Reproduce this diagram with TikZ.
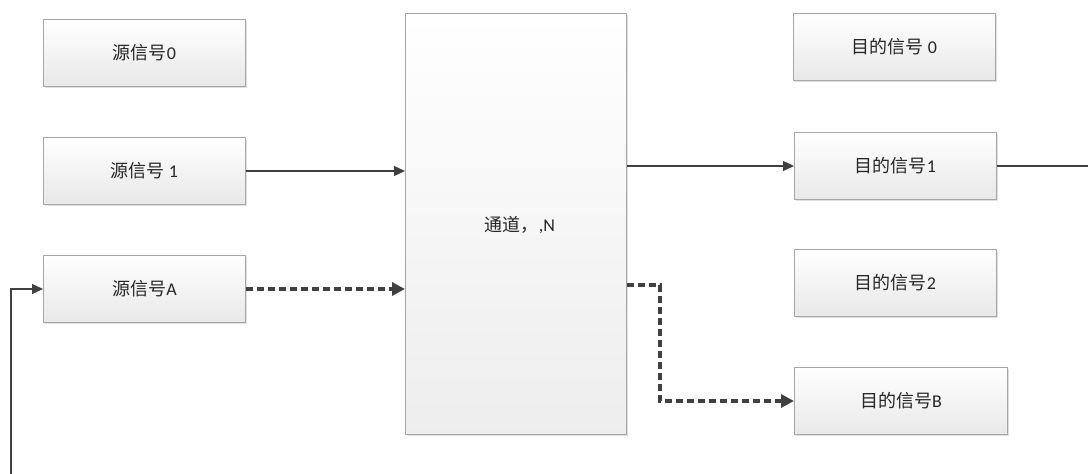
\documentclass[tikz,border=0pt]{standalone}
\usepackage{fontspec}
\setmainfont{Carlito}
\newfontfamily\cjk{Noto Sans CJK SC}
\usetikzlibrary{arrows.meta}
\definecolor{boxline}{HTML}{A6A6A6}
\definecolor{boxbot}{HTML}{E8E8E8}
\definecolor{linec}{HTML}{404040}
\definecolor{txt}{HTML}{262626}
\begin{document}
\begin{tikzpicture}[x=1pt,y=-1pt,
  box/.style={draw=boxline, line width=1pt, top color=white, bottom color=boxbot,
    anchor=north west, minimum width=202pt, minimum height=67pt, inner sep=0pt,
    text=txt, font=\fontsize{18pt}{21pt}\selectfont},
  arr/.style={draw=linec, line width=1.3pt, -{Triangle[length=11pt,width=10pt]}},
  darr/.style={draw=linec, line width=3.2pt, dash pattern=on 7pt off 4pt,
    -{Triangle[length=13pt,width=13pt]}},
  plain/.style={draw=linec, line width=1.3pt},
  shadowed/.style={preaction={fill=black!12, transform canvas={xshift=1.5pt,yshift=-1.5pt}}}
]
\useasboundingbox (0,0) rectangle (1088,474);
\fill[white] (0,0) rectangle (1088,474);

\node[box, shadowed] (s0) at (43,19) {{\cjk 源信号}0};
\node[box, shadowed] (s1) at (43,137) {{\cjk 源信号} 1};
\node[box, shadowed] (sA) at (43,255) {{\cjk 源信号}A};

\node[box, shadowed, minimum width=221pt, minimum height=421pt, top color=white, bottom color=white!93!black] (ch) at (405,13) {};
\node[text=txt, font=\fontsize{18pt}{21pt}\selectfont] (cht) at (520,225) {{\cjk 通道，},N};

\node[box, shadowed] (d0) at (793,13) {{\cjk 目的信号} 0};
\node[box, shadowed] (d1) at (794,132) {{\cjk 目的信号}1};
\node[box, shadowed] (d2) at (794,249) {{\cjk 目的信号}2};
\node[box, shadowed, minimum width=213pt] (dB) at (794,367) {{\cjk 目的信号}B};

\coordinate (rend) at (1088,164);
\coordinate (bend) at (660,285);
\coordinate (fb) at (11,474);

\draw[arr] (s1.east) -- (ch.west |- s1.east);
\draw[darr] (sA.east) -- (ch.west |- sA.east);
\draw[arr] (ch.east |- d1.west) -- (d1.west);
\draw[plain] (d1.east) -- (d1.east -| rend);
\draw[darr] (ch.east |- bend) -- (bend) |- (dB.west);
\draw[arr] (fb) |- (sA.west);
\end{tikzpicture}
\end{document}
